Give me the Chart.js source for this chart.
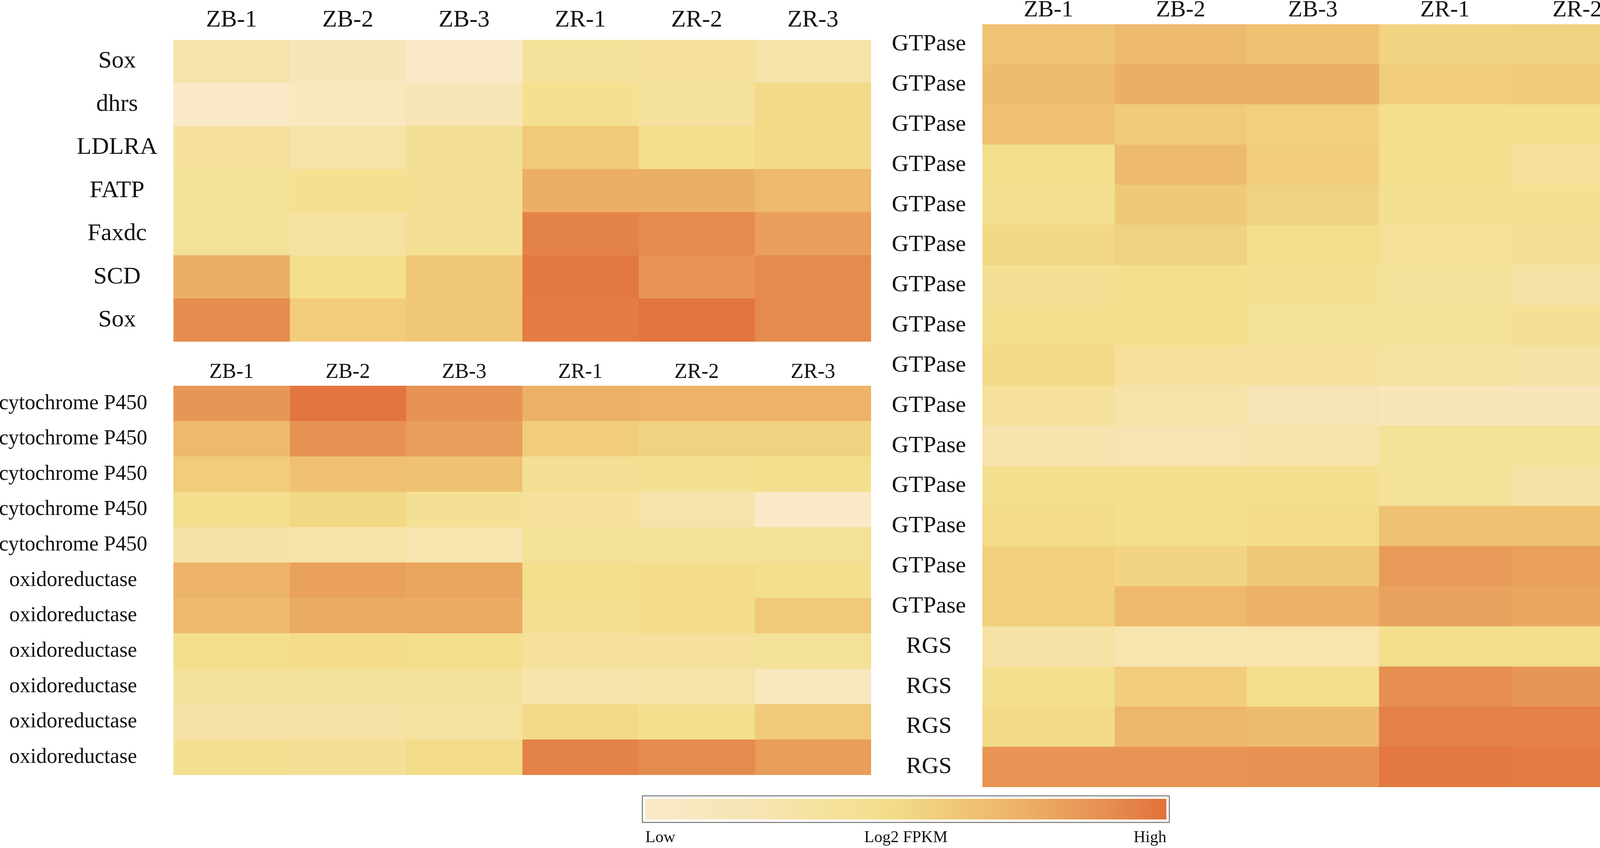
<!DOCTYPE html>
<html>
<head>
<meta charset="utf-8">
<script src="https://cdn.jsdelivr.net/npm/chart.js@4.4.1/dist/chart.umd.min.js"></script>
<style>
  html, body { margin: 0; padding: 0; background: #fff; }
  #page { position: relative; width: 4550px; height: 2172px; overflow: hidden; background: #fff; }
  .box { position: absolute; }
  #frame { position: absolute; left: 1643px; top: 2037px; width: 1346px; height: 65px; border: 3px solid #8a8a8a; }
</style>
</head>
<body>
<div id="page">
  <div class="box" style="left:0px;top:0px;width:2230px;height:875px"><canvas id="lipid"></canvas></div>
  <div class="box" style="left:0px;top:900px;width:2230px;height:1085px"><canvas id="p450"></canvas></div>
  <div class="box" style="left:2250px;top:0px;width:2295px;height:2016px"><canvas id="gtp"></canvas></div>
  <div id="frame"></div>
  <div class="box" style="left:1646px;top:2040px;width:1346px;height:132px"><canvas id="scale"></canvas></div>
</div>
<script>
// samples (columns of every block)
const samples = ['ZB-1', 'ZB-2', 'ZB-3', 'ZR-1', 'ZR-2', 'ZR-3'];

// block 1 - lipid genes, relative log2 FPKM (0 = low, 1 = high)
const lipidGenes = ['Sox', 'dhrs', 'LDLRA', 'FATP', 'Faxdc', 'SCD', 'Sox'];
const lipidValues = [
  [0.25, 0.14, 0.02, 0.37, 0.36, 0.27],
  [0.02, 0.10, 0.17, 0.42, 0.34, 0.48],
  [0.35, 0.28, 0.40, 0.58, 0.45, 0.48],
  [0.38, 0.42, 0.40, 0.73, 0.73, 0.68],
  [0.38, 0.31, 0.40, 0.93, 0.90, 0.81],
  [0.73, 0.45, 0.60, 0.97, 0.86, 0.90],
  [0.89, 0.57, 0.60, 0.96, 0.98, 0.90]
];

// block 2 - P450 / oxidoreductase
const p450Genes = ['cytochrome P450', 'cytochrome P450', 'cytochrome P450', 'cytochrome P450', 'cytochrome P450',
  'oxidoreductase', 'oxidoreductase', 'oxidoreductase', 'oxidoreductase', 'oxidoreductase', 'oxidoreductase'];
const p450Values = [
  [0.85, 0.98, 0.87, 0.72, 0.71, 0.71],
  [0.68, 0.87, 0.81, 0.57, 0.53, 0.53],
  [0.57, 0.64, 0.63, 0.40, 0.42, 0.45],
  [0.44, 0.50, 0.40, 0.36, 0.26, 0.02],
  [0.30, 0.28, 0.24, 0.38, 0.38, 0.38],
  [0.71, 0.80, 0.78, 0.45, 0.46, 0.44],
  [0.67, 0.75, 0.75, 0.43, 0.46, 0.58],
  [0.44, 0.46, 0.45, 0.36, 0.35, 0.38],
  [0.37, 0.37, 0.34, 0.25, 0.27, 0.10],
  [0.29, 0.30, 0.32, 0.48, 0.44, 0.58],
  [0.42, 0.40, 0.47, 0.93, 0.90, 0.82]
];

// block 3 - GTPase / RGS
const gtpGenes = ['GTPase', 'GTPase', 'GTPase', 'GTPase', 'GTPase', 'GTPase', 'GTPase', 'GTPase',
  'GTPase', 'GTPase', 'GTPase', 'GTPase', 'GTPase', 'GTPase', 'GTPase', 'RGS', 'RGS', 'RGS', 'RGS'];
const gtpValues = [
  [0.62, 0.67, 0.63, 0.52, 0.53, 0.48],
  [0.66, 0.73, 0.73, 0.57, 0.58, 0.55],
  [0.64, 0.58, 0.55, 0.45, 0.45, 0.44],
  [0.45, 0.67, 0.56, 0.45, 0.35, 0.40],
  [0.43, 0.59, 0.53, 0.41, 0.41, 0.36],
  [0.50, 0.53, 0.45, 0.39, 0.40, 0.35],
  [0.40, 0.44, 0.42, 0.37, 0.30, 0.37],
  [0.44, 0.45, 0.38, 0.38, 0.40, 0.40],
  [0.48, 0.36, 0.36, 0.33, 0.30, 0.16],
  [0.36, 0.28, 0.20, 0.15, 0.14, 0.06],
  [0.25, 0.22, 0.26, 0.38, 0.38, 0.40],
  [0.44, 0.44, 0.44, 0.38, 0.30, 0.40],
  [0.47, 0.45, 0.47, 0.63, 0.63, 0.63],
  [0.55, 0.52, 0.60, 0.83, 0.80, 0.78],
  [0.55, 0.68, 0.72, 0.79, 0.78, 0.80],
  [0.30, 0.24, 0.24, 0.45, 0.45, 0.45],
  [0.44, 0.56, 0.45, 0.88, 0.85, 0.85],
  [0.48, 0.69, 0.66, 0.94, 0.94, 0.89],
  [0.86, 0.86, 0.87, 0.97, 0.96, 0.96]
];

// colour bar labels
const scaleLabels = ['Low', 'Log2 FPKM', 'High'];

// low -> high colour ramp
const ramp = [
  [0.00, [250, 233, 200]],
  [0.22, [247, 228, 178]],
  [0.45, [243, 223, 140]],
  [0.60, [240, 199, 118]],
  [0.76, [235, 170, 98]],
  [0.90, [229, 139, 78]],
  [1.00, [226, 113, 58]]
];

function heat(v) {
  for (let i = 1; i < ramp.length; i++) {
    if (v <= ramp[i][0]) {
      const [a, ca] = ramp[i - 1];
      const [b, cb] = ramp[i];
      const t = (v - a) / (b - a);
      const c = ca.map((x, k) => Math.round(x + (cb[k] - x) * t));
      return `rgb(${c[0]},${c[1]},${c[2]})`;
    }
  }
  const c = ramp[ramp.length - 1][1];
  return `rgb(${c[0]},${c[1]},${c[2]})`;
}

// keep the tick labels from eating into the cell area
function noPad(sc) {
  sc.paddingTop = 0;
  sc.paddingBottom = 0;
  sc.paddingLeft = 0;
  sc.paddingRight = 0;
}

Chart.defaults.font.family = '"Liberation Serif", "Times New Roman", serif';
Chart.defaults.color = '#111';

function heatmap(id, genes, values, opt) {
  const datasets = samples.map((s, c) => ({
    label: s,
    data: genes.map(() => 1),
    backgroundColor: values.map(row => heat(row[c])),
    borderWidth: 0,
    barPercentage: 1,
    categoryPercentage: 1
  }));
  return new Chart(document.getElementById(id), {
    type: 'bar',
    data: { labels: genes, datasets },
    options: {
      indexAxis: 'y',
      responsive: true,
      maintainAspectRatio: false,
      devicePixelRatio: 1,
      animation: false,
      layout: { padding: 0 },
      plugins: { legend: { display: false }, tooltip: { enabled: false } },
      scales: {
        x: {
          type: 'linear',
          position: 'top',
          stacked: true,
          min: 0,
          max: samples.length,
          border: { display: false },
          grid: { display: false, drawTicks: false },
          afterBuildTicks: sc => { sc.ticks = samples.map((_, i) => ({ value: i + 0.5 })); },
          afterFit: sc => { sc.height = opt.axisH; noPad(sc); },
          ticks: {
            autoSkip: false,
            maxRotation: 0,
            padding: opt.xPad,
            font: { size: opt.font },
            callback: (v, i) => samples[i]
          }
        },
        y: {
          stacked: true,
          border: { display: false },
          grid: { display: false, drawTicks: false },
          afterFit: sc => { sc.width = opt.axisW; noPad(sc); },
          ticks: {
            crossAlign: 'center',
            padding: opt.yPad,
            font: { size: opt.font }
          }
        }
      }
    }
  });
}

heatmap('lipid', lipidGenes, lipidValues, { font: 62, axisW: 444, axisH: 102, xPad: 13, yPad: 41 });
heatmap('p450', p450Genes, p450Values, { font: 54, axisW: 444, axisH: 88, xPad: 2, yPad: 67 });
heatmap('gtp', gtpGenes, gtpValues, { font: 60, axisW: 265, axisH: 62, xPad: 0, yPad: 42 });

// colour bar
new Chart(document.getElementById('scale'), {
  type: 'bar',
  data: {
    labels: ['Log2 FPKM'],
    datasets: [{
      data: [1],
      borderWidth: 0,
      barPercentage: 1,
      categoryPercentage: 1,
      backgroundColor: ctx => {
        const area = ctx.chart.chartArea;
        if (!area) return heat(0.5);
        const g = ctx.chart.ctx.createLinearGradient(area.left, 0, area.right, 0);
        ramp.forEach(([p]) => g.addColorStop(p, heat(p)));
        return g;
      }
    }]
  },
  options: {
    indexAxis: 'y',
    responsive: true,
    maintainAspectRatio: false,
    devicePixelRatio: 1,
    animation: false,
    layout: { padding: { left: 6, right: 6, top: 6, bottom: 0 } },
    plugins: { legend: { display: false }, tooltip: { enabled: false } },
    scales: {
      x: {
        type: 'linear',
        min: 0,
        max: 1,
        border: { display: false },
        grid: { display: false, drawTicks: false },
        afterBuildTicks: sc => { sc.ticks = scaleLabels.map((_, i) => ({ value: i / (scaleLabels.length - 1) })); },
        afterFit: sc => { sc.height = 73; noPad(sc); },
        ticks: {
          align: 'inner',
          autoSkip: false,
          maxRotation: 0,
          padding: 22,
          font: { size: 42 },
          callback: (v, i) => scaleLabels[i]
        }
      },
      y: { display: false }
    }
  }
});
</script>
</body>
</html>
